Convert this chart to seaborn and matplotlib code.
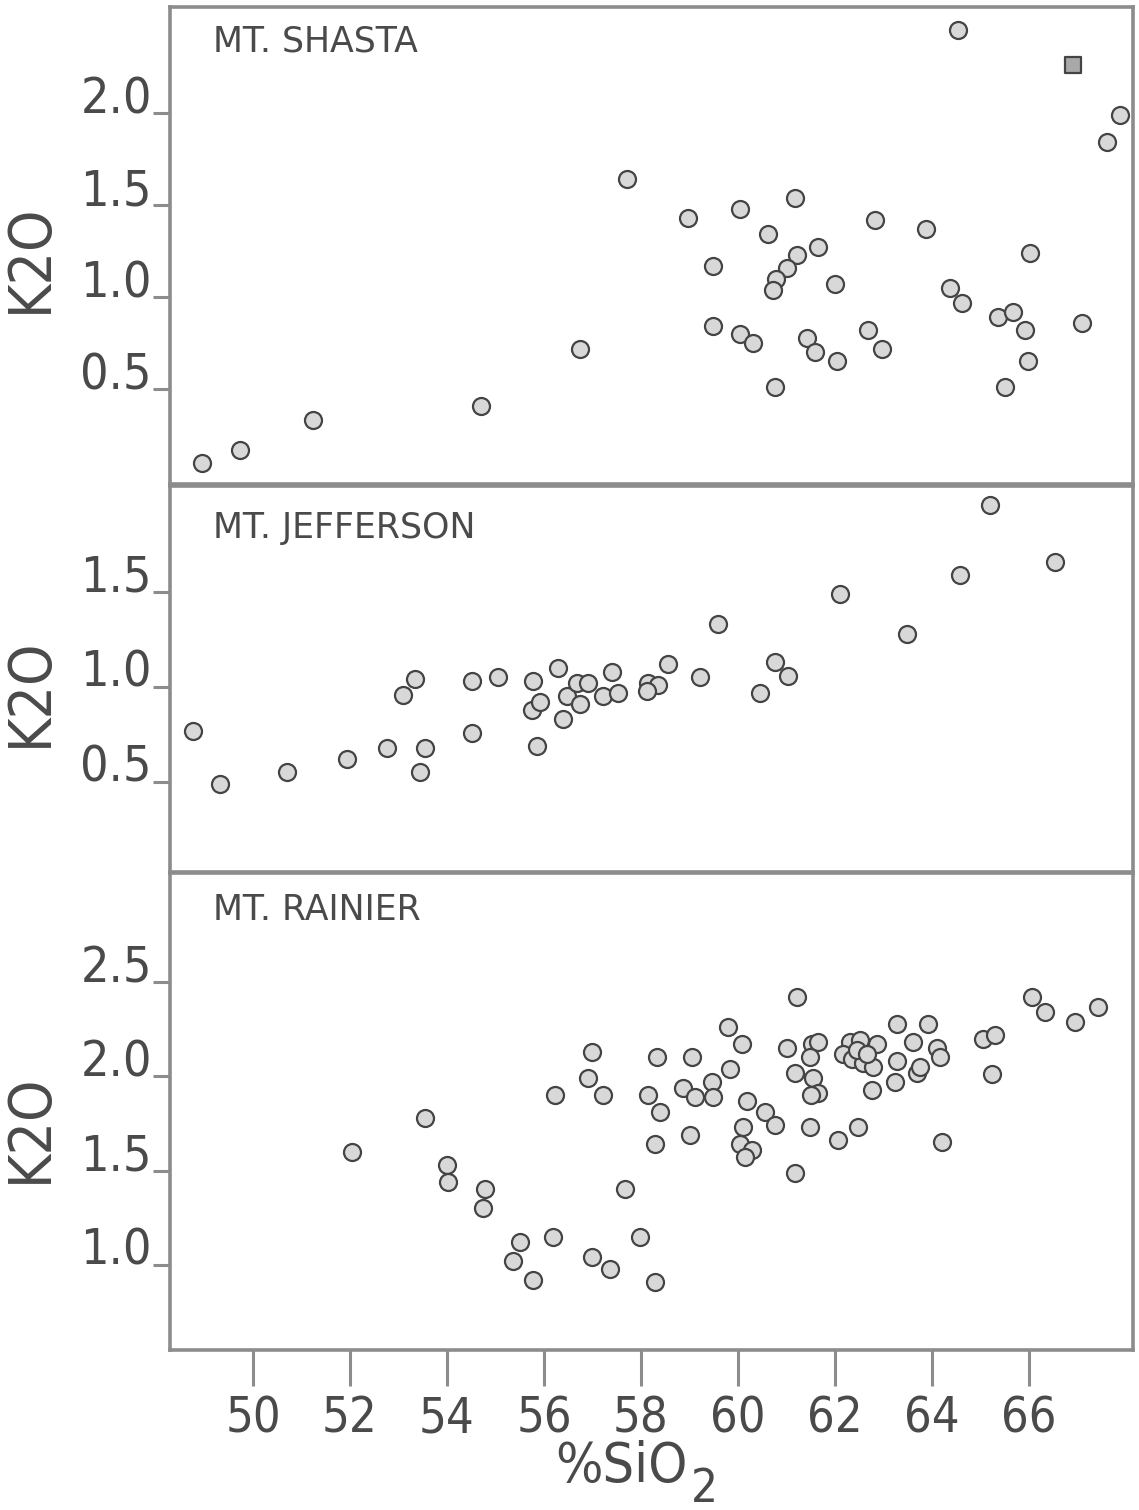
import matplotlib
matplotlib.use("Agg")
import matplotlib.pyplot as plt
import seaborn as sns
import pandas as pd
from matplotlib import font_manager
from matplotlib.font_manager import FontProperties

sns.set_style("white")
plt.rcParams["font.family"] = ["DejaVu Sans"]

# look for a narrow / condensed face for the stencil-like lettering
narrow_path = None
for f in font_manager.fontManager.ttflist:
    nm = f.name.lower()
    if f.style != "normal":
        continue
    if ("narrow" in nm or "condensed" in nm or str(f.stretch) in ("condensed", "semi-condensed")) \
            and (f.weight in (400, "normal", "regular", "book", 300, "light")):
        narrow_path = f.fname
        break


def nfont(size):
    if narrow_path:
        return FontProperties(fname=narrow_path, size=size)
    return FontProperties(family="DejaVu Sans", size=size)


HAS_NARROW = narrow_path is not None
TICK_FS = 36 if HAS_NARROW else 29
XTICK_FS = 35 if HAS_NARROW else 29
YLAB_FS = 42 if HAS_NARROW else 33
XLAB_FS = 40 if HAS_NARROW else 36

# ---------------- data ----------------
shasta_sio2 = [48.95, 49.73, 51.24, 54.70, 56.74, 57.71, 58.97, 60.04, 61.18, 60.62,
               59.48, 61.22, 61.01, 60.78, 60.72, 61.65, 62.00, 62.82, 63.88, 64.54,
               67.88, 67.61, 66.02, 64.37, 64.62, 65.36, 65.67, 65.92, 67.09, 59.48,
               60.04, 60.31, 60.76, 61.42, 61.59, 62.04, 62.68, 62.97, 65.98, 65.51]
shasta_k2o = [0.10, 0.17, 0.33, 0.41, 0.72, 1.64, 1.43, 1.48, 1.54, 1.34,
              1.17, 1.23, 1.16, 1.10, 1.04, 1.27, 1.07, 1.42, 1.37, 2.45,
              1.99, 1.84, 1.24, 1.05, 0.97, 0.89, 0.92, 0.82, 0.86, 0.84,
              0.80, 0.75, 0.51, 0.78, 0.70, 0.65, 0.82, 0.72, 0.65, 0.51]
shasta_sq_sio2 = [66.91]
shasta_sq_k2o = [2.26]

jefferson_sio2 = [48.76, 49.32, 50.70, 51.94, 52.76, 53.09, 53.34, 53.55, 53.44, 54.52,
                  54.52, 55.05, 55.77, 55.86, 56.29, 55.75, 55.92, 56.39, 56.47, 56.74,
                  56.68, 56.91, 57.22, 57.40, 57.53, 58.14, 58.35, 58.12, 58.56, 59.22,
                  59.59, 60.45, 60.76, 61.03, 62.10, 63.48, 64.58, 65.20, 66.54]
jefferson_k2o = [0.77, 0.49, 0.55, 0.62, 0.68, 0.96, 1.04, 0.68, 0.55, 1.03,
                 0.76, 1.05, 1.03, 0.69, 1.10, 0.88, 0.92, 0.83, 0.95, 0.91,
                 1.02, 1.02, 0.95, 1.08, 0.97, 1.02, 1.01, 0.98, 1.12, 1.05,
                 1.33, 0.97, 1.13, 1.06, 1.49, 1.28, 1.59, 1.96, 1.66]

rainier_sio2 = [52.04, 53.55, 54.00, 54.02, 54.78, 54.74, 55.51, 55.36, 55.77, 56.19,
                56.99, 57.36, 57.98, 58.29, 57.67, 56.23, 56.99, 56.91, 57.22, 58.14,
                58.39, 58.33, 58.29, 59.05, 59.01, 58.87, 59.11, 59.46, 59.48, 59.84,
                59.79, 60.08, 60.19, 60.56, 60.76, 60.10, 60.04, 60.29, 60.14, 61.22,
                61.01, 61.18, 61.18, 61.53, 61.65, 61.48, 61.55, 61.65, 61.50, 62.31,
                62.52, 62.16, 62.35, 62.58, 62.78, 62.87, 62.45, 62.66, 62.76, 63.28,
                63.92, 63.61, 63.28, 63.24, 63.69, 63.75, 64.10, 64.16, 65.05, 65.30,
                65.24, 66.06, 66.33, 66.95, 67.42, 61.48, 62.06, 62.47, 64.21]
rainier_k2o = [1.60, 1.78, 1.53, 1.44, 1.40, 1.30, 1.12, 1.02, 0.92, 1.15,
               1.04, 0.98, 1.15, 0.91, 1.40, 1.90, 2.13, 1.99, 1.90, 1.90,
               1.81, 2.10, 1.64, 2.10, 1.69, 1.94, 1.89, 1.97, 1.89, 2.04,
               2.26, 2.17, 1.87, 1.81, 1.74, 1.73, 1.64, 1.61, 1.57, 2.42,
               2.15, 2.02, 1.49, 2.17, 2.18, 2.10, 1.99, 1.91, 1.90, 2.18,
               2.19, 2.12, 2.09, 2.07, 2.05, 2.17, 2.14, 2.12, 1.93, 2.28,
               2.28, 2.18, 2.08, 1.97, 2.02, 2.05, 2.15, 2.10, 2.20, 2.22,
               2.01, 2.42, 2.34, 2.29, 2.37, 1.73, 1.66, 1.73, 1.65]

titles = ["MT. SHASTA", "MT. JEFFERSON", "MT. RAINIER"]
x_ticks = [50, 52, 54, 56, 58, 60, 62, 64, 66]
y_ticks = [[0.5, 1.0, 1.5, 2.0], [0.5, 1.0, 1.5], [1.0, 1.5, 2.0, 2.5]]
y_limits = [(-0.016, 2.576), (0.026, 2.058), (0.549, 3.078)]
x_limits = (48.289, 68.144)

# ---------------- figure ----------------
fig = plt.figure(figsize=(11.39, 15.10), dpi=100)
rects = [[0.14925, 0.67947, 0.84548, 0.31589],
         [0.14925, 0.42252, 0.84548, 0.25563],
         [0.14925, 0.10596, 0.84548, 0.31589]]
frames = [pd.DataFrame({"SiO2": shasta_sio2, "K2O": shasta_k2o}),
          pd.DataFrame({"SiO2": jefferson_sio2, "K2O": jefferson_k2o}),
          pd.DataFrame({"SiO2": rainier_sio2, "K2O": rainier_k2o})]

TXT = "#4a4a4a"
SPINE = "#8c8c8c"
title_y = [1 - 42 / 1510, 1 - 528 / 1510, 1 - 910 / 1510]
ylab_y = [1 - 258 / 1510, 1 - 692 / 1510, 1 - 1128 / 1510]

for i, (rect, df) in enumerate(zip(rects, frames)):
    ax = fig.add_axes(rect)
    sns.scatterplot(data=df, x="SiO2", y="K2O", ax=ax, marker="o", s=150,
                    facecolor="#d8d8d8", edgecolor="#444444", linewidth=1.6,
                    legend=False, zorder=3)
    if i == 0:
        sq = pd.DataFrame({"SiO2": shasta_sq_sio2, "K2O": shasta_sq_k2o})
        sns.scatterplot(data=sq, x="SiO2", y="K2O", ax=ax, marker="s", s=130,
                        facecolor="#a9a9a9", edgecolor="#444444", linewidth=1.6,
                        legend=False, zorder=3)
    ax.set_xlim(*x_limits)
    ax.set_ylim(*y_limits[i])
    ax.set_xlabel("")
    ax.set_ylabel("")
    ax.set_yticks(y_ticks[i])
    ax.set_yticklabels([f"{v:.1f}" for v in y_ticks[i]],
                       fontproperties=nfont(TICK_FS), color=TXT)
    for lab in ax.get_yticklabels():
        lab.set_verticalalignment("baseline")
    ax.tick_params(axis="y", left=True, length=12, width=2.2, color=SPINE,
                   direction="out", pad=1)
    for sp in ax.spines.values():
        sp.set_visible(True)
        sp.set_color(SPINE)
        sp.set_linewidth(2.6)
    ax.set_xticks(x_ticks)
    if i < 2:
        ax.tick_params(axis="x", bottom=False, labelbottom=False)
    else:
        ax.set_xticklabels([str(v) for v in x_ticks],
                           fontproperties=nfont(XTICK_FS), color=TXT)
        ax.tick_params(axis="x", bottom=True, length=26, width=2.2,
                       color=SPINE, direction="out", pad=6)
    fig.text(213 / 1139, title_y[i], titles[i], fontsize=25, color=TXT,
             ha="left", va="center")
    fig.text(30 / 1139, ylab_y[i], "K2O", fontproperties=nfont(YLAB_FS),
             color=TXT, rotation=90, ha="center", va="center")

t = fig.text(555 / 1139, 1 - 1482 / 1510, "%SiO", fontproperties=nfont(XLAB_FS),
             color=TXT, ha="left", va="baseline")
fig.canvas.draw()
bb = t.get_window_extent()
fig.text(bb.x1 / 1139 + 0.003, 1 - 1502 / 1510, "2",
         fontproperties=nfont(XLAB_FS - 6), color=TXT, ha="left", va="baseline")

fig.savefig("out.png", dpi=100, facecolor="white")
